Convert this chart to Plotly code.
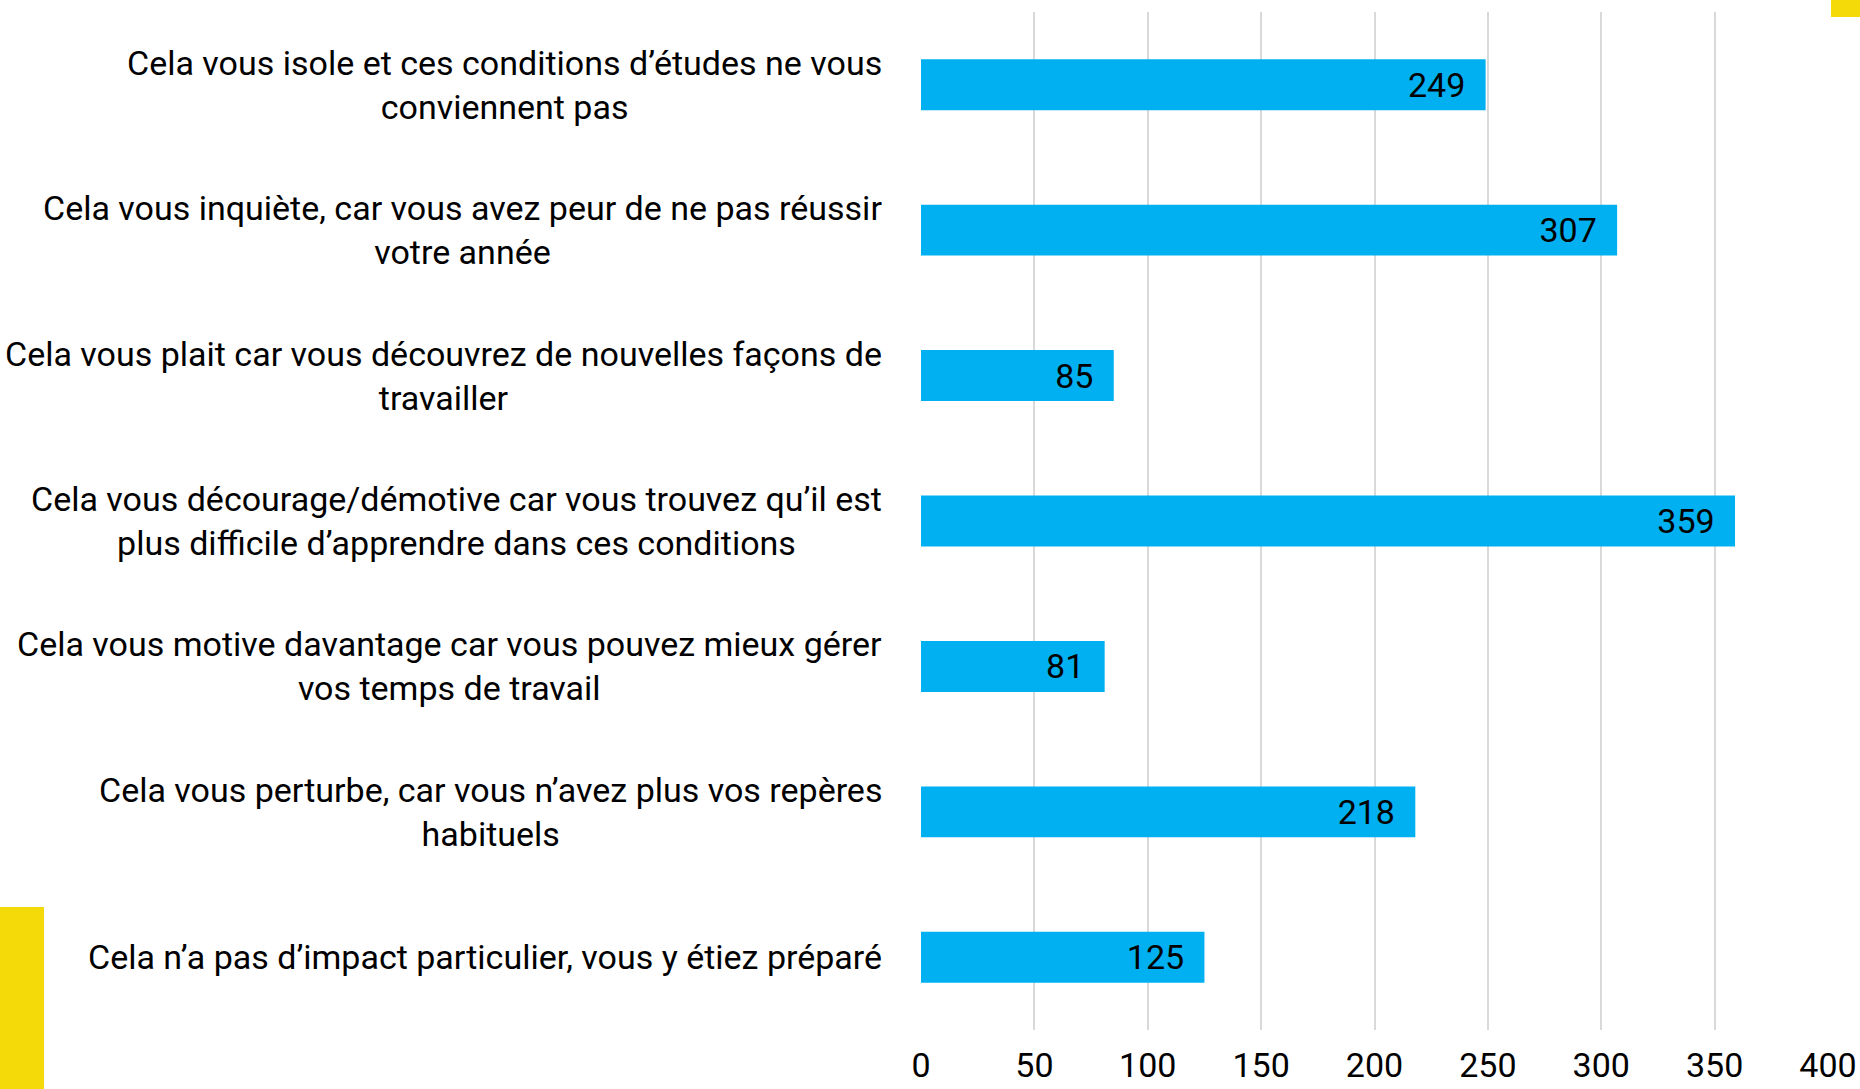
import plotly.graph_objects as go

categories = [
    "Cela vous isole et ces conditions d’études ne vous conviennent pas",
    "Cela vous inquiète, car vous avez peur de ne pas réussir votre année",
    "Cela vous plait car vous découvrez de nouvelles façons de travailler",
    "Cela vous décourage/démotive car vous trouvez qu’il est plus difficile d’apprendre dans ces conditions",
    "Cela vous motive davantage car vous pouvez mieux gérer vos temps de travail",
    "Cela vous perturbe, car vous n’avez plus vos repères habituels",
    "Cela n’a pas d’impact particulier, vous y étiez préparé",
]
tick_labels = [
    "Cela vous isole et ces conditions d’études ne vous<br>conviennent pas",
    "Cela vous inquiète, car vous avez peur de ne pas réussir<br>votre année",
    "Cela vous plait car vous découvrez de nouvelles façons de<br>travailler",
    "Cela vous décourage/démotive car vous trouvez qu’il est<br>plus difficile d’apprendre dans ces conditions",
    "Cela vous motive davantage car vous pouvez mieux gérer<br>vos temps de travail",
    "Cela vous perturbe, car vous n’avez plus vos repères<br>habituels",
    "Cela n’a pas d’impact particulier, vous y étiez préparé",
]
values = [249, 307, 85, 359, 81, 218, 125]
x_ticks = [0, 50, 100, 150, 200, 250, 300, 350, 400]

FONT = "Roboto, sans-serif"
W, H = 1860, 1089
L, R, T, B = 921, 32, 12, 59
pw, ph = W - L - R, H - T - B

def px_x(p):
    return (p - L) / pw

def px_y(p):
    return (H - B - p) / ph

fig = go.Figure()
fig.add_trace(go.Bar(
    x=values, y=categories, orientation="h",
    marker=dict(color="#00B0F0", line=dict(width=0)),
    width=0.35,
    texttemplate="%{x}\u2002",
    textposition="inside", insidetextanchor="end",
    textfont=dict(family=FONT, size=34, color="black"),
    cliponaxis=False,
))

for cat, lab in zip(categories, tick_labels):
    fig.add_annotation(
        x=px_x(884), xref="paper", y=cat, yref="y",
        text=lab, showarrow=False, xanchor="right", yanchor="middle",
        align="center", font=dict(family=FONT, size=34, color="black"),
    )

fig.add_shape(type="rect", xref="paper", yref="paper",
              x0=px_x(0), x1=px_x(44), y0=px_y(1089), y1=px_y(907),
              fillcolor="#F5DA0A", line=dict(width=0), layer="below")
fig.add_shape(type="rect", xref="paper", yref="paper",
              x0=px_x(1831), x1=px_x(1860), y0=px_y(17), y1=px_y(0),
              fillcolor="#F5DA0A", line=dict(width=0), layer="below")

fig.update_layout(
    width=W, height=H,
    margin=dict(l=L, r=R, t=T, b=B, pad=0, autoexpand=False),
    paper_bgcolor="white", plot_bgcolor="white",
    showlegend=False,
    font=dict(family=FONT, size=34, color="black"),
    xaxis=dict(range=[0, 400], tickvals=x_ticks, showgrid=True,
               gridcolor="#D9D9D9", gridwidth=2, zeroline=False,
               showline=False, ticks="", ticklabelstandoff=12,
               automargin=False,
               tickfont=dict(family=FONT, size=34, color="black")),
    yaxis=dict(categoryorder="array", categoryarray=categories,
               autorange="reversed", showticklabels=False, automargin=False,
               showgrid=False, zeroline=False, showline=False, ticks=""),
)

fig.write_html(
    "out.html",
    config={"displayModeBar": False},
    post_script="document.body.style.margin='0';document.body.style.overflow='hidden';",
)
